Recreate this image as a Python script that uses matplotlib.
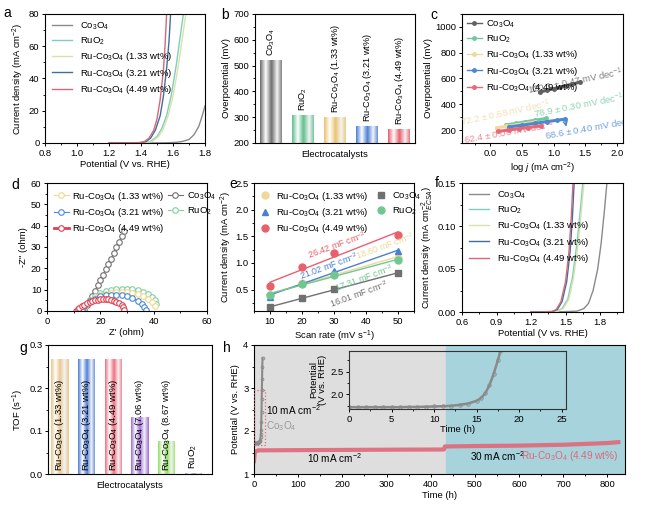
import numpy as np
import matplotlib
matplotlib.use('Agg')
import matplotlib.pyplot as plt
from matplotlib.colors import LinearSegmentedColormap
from matplotlib.patches import Rectangle
from matplotlib.ticker import AutoMinorLocator

plt.rcParams['font.family'] = ['Liberation Sans', 'DejaVu Sans']
plt.rcParams['mathtext.fontset'] = 'custom'
plt.rcParams['mathtext.rm'] = 'Liberation Sans'
plt.rcParams['mathtext.it'] = 'Liberation Sans:italic'
plt.rcParams['mathtext.bf'] = 'Liberation Sans:bold'
plt.rcParams['font.size'] = 6.8
plt.rcParams['axes.linewidth'] = 0.8

CO = 'Co$_3$O$_4$'
RUO = 'RuO$_2$'
def ru(w):
    return 'Ru-Co$_3$O$_4$ (%s wt%%)' % w

# ---- a: LSV (V vs RHE, mA cm-2)
a_names = [CO, RUO, ru('1.33'), ru('3.21'), ru('4.49')]
a_v = [[1.20, 1.40, 1.55, 1.62, 1.66, 1.70, 1.73, 1.76, 1.78, 1.80],
       [1.20, 1.42, 1.46, 1.50, 1.53, 1.56, 1.59, 1.62, 1.645, 1.665],
       [1.20, 1.43, 1.47, 1.51, 1.54, 1.57, 1.60, 1.63, 1.66, 1.68],
       [1.20, 1.39, 1.43, 1.46, 1.49, 1.52, 1.54, 1.56, 1.575, 1.585],
       [1.20, 1.38, 1.42, 1.45, 1.48, 1.50, 1.52, 1.54, 1.55, 1.56]]
a_j = [[0, 0, 0.1, 0.4, 1.0, 2.2, 5, 10, 16, 23],
       [0, 0.1, 1, 4, 9, 17, 30, 48, 66, 80],
       [0, 0.1, 1, 4, 9, 17, 29, 46, 66, 80],
       [0, 0.1, 0.8, 3, 8, 17, 29, 46, 63, 80],
       [0, 0.1, 0.8, 3, 8, 15, 27, 45, 60, 80]]
a_colors = ['#8a8a8a', '#7ccfc0', '#d9e2a8', '#3f6f9f', '#d86878']

# ---- b: overpotential
b_names = [CO, RUO, ru('1.33'), ru('3.21'), ru('4.49')]
b_eta = [522, 310, 300, 267, 253]
b_colors = ['#6e6e6e', '#5fbf8c', '#e8c472', '#4a80d8', '#e8606c']

# ---- c: Tafel
c_x = [[0.78, 0.90, 1.00, 1.10, 1.20, 1.30, 1.42],
       [0.25, 0.40, 0.55, 0.70, 0.88],
       [0.10, 0.25, 0.40, 0.55, 0.70],
       [0.30, 0.50, 0.70, 0.90, 1.05, 1.18],
       [0.12, 0.30, 0.45, 0.60, 0.80]]
c_y = [[495, 509, 521, 533, 545, 557, 572],
       [240, 252, 264, 276, 290],
       [218, 229, 240, 251, 262],
       [225, 238, 252, 266, 276, 285],
       [190, 201, 211, 220, 233]]
c_colors = ['#606060', '#70c8a0', '#f0d8a0', '#4a88d0', '#e86878']
c_slopes = ['120.1 ± 0.47', '78.9 ± 0.30', '72.2 ± 0.68', '68.6 ± 0.40', '62.4 ± 0.06']
c_label_pos = [(1.34, 575), (1.40, 388), (0.23, 335), (1.58, 212), (0.30, 180)]
c_label_rot = [11, 11, 12, 10, 10]

# ---- d: Nyquist
d_zr = [[14, 15, 16, 17, 18, 19, 20, 21, 22, 23, 24, 25, 26, 27, 28, 29],
        [14, 16, 18, 20, 22, 24, 26, 28, 30, 32, 34, 36, 38, 39.5, 40.5, 41],
        [14, 16, 18, 20, 22, 24, 26, 28, 30, 32, 34, 36, 38, 39.5, 40.5],
        [12, 13, 14, 16, 18, 20, 22, 24, 26, 28, 30, 32, 34, 35.5, 36.5, 37],
        [11, 11.5, 12, 13, 14, 15, 16, 17, 18, 19, 20, 21, 22, 23, 24, 25, 26, 27, 28, 28.5, 29]]
d_zi = [[1, 3, 5, 7, 9.5, 12, 14.5, 17, 19.5, 22, 24.5, 27, 30, 32.5, 35, 37.5],
        [2, 5, 7, 8.3, 9.2, 9.8, 10.2, 10.4, 10.4, 10.2, 9.8, 9, 7.8, 6.5, 5, 3.5],
        [2, 4.5, 6.2, 7.3, 8, 8.5, 8.8, 8.9, 8.8, 8.5, 8, 7, 5.5, 4, 2.5],
        [0, 1, 2.5, 4.5, 5.8, 6.8, 7.3, 7.6, 7.7, 7.5, 7, 6.2, 4.8, 3.5, 2, 0.5],
        [0, 0.8, 1.5, 2.3, 3, 3.7, 4.2, 4.7, 5, 5.2, 5.4, 5.5, 5.5, 5.4, 5.2, 4.9, 4.4, 3.7, 2.8, 1.8, 0.5]]
d_names = [CO, RUO, ru('1.33'), ru('3.21'), ru('4.49')]
d_colors = ['#707070', '#80d0a0', '#f0d890', '#4a88d8', '#e04050']

# ---- e: Cdl
e_rate = [10, 20, 30, 50]
e_names = [ru('1.33'), ru('3.21'), ru('4.49'), CO, RUO]
e_j = [[0.40, 0.62, 0.80, 1.10],
       [0.37, 0.63, 0.85, 1.22],
       [0.56, 0.93, 1.19, 1.53],
       [0.17, 0.34, 0.51, 0.81],
       [0.40, 0.60, 0.78, 1.05]]
e_markers = ['o', '^', 'o', 's', 'o']
e_colors = ['#f0d898', '#4a80d0', '#e8606c', '#707070', '#70c890']
e_cdl = ['18.60', '21.02', '26.42', '16.01', '17.31']
e_label_pos = [(46, 1.31), (28.4, 0.94), (30.8, 1.34), (37.7, 0.42), (39.3, 0.72)]

# ---- f: ECSA-normalised LSV
f_v = [[1.40, 1.60, 1.66, 1.70, 1.74, 1.78, 1.81, 1.84, 1.86],
       [1.20, 1.42, 1.47, 1.52, 1.56, 1.60, 1.63, 1.65],
       [1.20, 1.43, 1.48, 1.53, 1.57, 1.61, 1.64, 1.66],
       [1.20, 1.39, 1.43, 1.47, 1.51, 1.54, 1.56, 1.575],
       [1.20, 1.38, 1.42, 1.46, 1.50, 1.53, 1.55, 1.565]]
f_j = [[0, 0.001, 0.004, 0.010, 0.025, 0.050, 0.080, 0.120, 0.150],
       [0, 0.0005, 0.004, 0.015, 0.040, 0.080, 0.120, 0.150],
       [0, 0.0005, 0.004, 0.015, 0.040, 0.080, 0.120, 0.150],
       [0, 0.0005, 0.003, 0.012, 0.035, 0.070, 0.110, 0.150],
       [0, 0.0005, 0.003, 0.012, 0.035, 0.070, 0.110, 0.150]]

# ---- g: TOF
g_names = [ru('1.33'), ru('3.21'), ru('4.49'), ru('7.06'), ru('8.67'), RUO]
g_tof = [0.267, 0.268, 0.268, 0.132, 0.076, 0.003]
g_colors = ['#e8c890', '#5080d8', '#f07080', '#a070d8', '#90e060', '#90a8a0']

# ---- h: stability
h_co_t = [0, 1, 2, 3, 4, 5, 6, 7, 8, 9, 10, 11, 12, 13, 14, 15, 15.5, 16, 16.5, 17, 17.5, 17.8, 18.3, 18.8, 19.3]
h_co_v = [1.72, 1.72, 1.72, 1.72, 1.72, 1.72, 1.72, 1.725, 1.725, 1.73, 1.735, 1.74, 1.75, 1.77, 1.80,
          1.86, 1.92, 2.02, 2.2, 2.45, 2.75, 2.95, 3.2, 3.5, 3.7]
h_ru_t = [0, 2, 10, 100, 200, 300, 430, 432, 500, 600, 700, 800, 825]
h_ru_v = [1.3, 1.52, 1.55, 1.555, 1.56, 1.565, 1.57, 1.64, 1.65, 1.66, 1.68, 1.72, 1.74]
h_switch = 435
inset_window = (0, 25.5, 1.68, 2.95)


def style(ax, minor_x=True, minor_y=True):
    ax.tick_params(direction='out', length=2.5, width=0.7, labelsize=6.8, pad=1.5)
    ax.tick_params(which='minor', direction='out', length=1.5, width=0.6)
    if minor_x:
        ax.xaxis.set_minor_locator(AutoMinorLocator(2))
    if minor_y:
        ax.yaxis.set_minor_locator(AutoMinorLocator(2))


def shade_bars(ax, bars, colors):
    lim = ax.get_ylim()
    for b, c in zip(bars, colors):
        cm = LinearSegmentedColormap.from_list('g', [c, '#ffffff', c, '#f4f4f4', c])
        x0 = b.get_x()
        im = ax.imshow(np.linspace(0, 1, 64)[None, :], cmap=cm, aspect='auto',
                       extent=(x0, x0 + b.get_width(), lim[0], b.get_y() + b.get_height()),
                       zorder=2)
        im.set_clip_path(b.get_path(), b.get_transform())


fig = plt.figure(figsize=(6.48, 5.07), dpi=100)

def axes_px(l, t, r, b):
    W, H = 648, 507
    return fig.add_axes([l / W, 1 - b / H, (r - l) / W, (b - t) / H])

# a
ax = axes_px(45, 14, 205, 143)
for v, j, n, c in zip(a_v, a_j, a_names, a_colors):
    ax.plot(v, j, color=c, lw=1.0, label=n)
ax.set_xlim(0.8, 1.8)
ax.set_ylim(0, 80)
ax.set_xlabel('Potential (V vs. RHE)', labelpad=2)
ax.set_ylabel('Current density (mA cm$^{-2}$)', labelpad=2)
ax.legend(loc='upper left', frameon=False, fontsize=6.8, handlelength=2.2,
          labelspacing=0.35, borderaxespad=0.3)
style(ax)

# b
ax = axes_px(255, 14, 415, 143)
ax.set_xlim(0.5, 5.5)
ax.set_ylim(200, 700)
pos = np.arange(1, len(b_eta) + 1)
bars = ax.bar(pos, b_eta, width=0.7, color='none', edgecolor='none')
shade_bars(ax, bars, b_colors)
for p, e, n in zip(pos, b_eta, b_names):
    ax.text(p, e + 15, n, rotation=90, ha='center', va='bottom', fontsize=6.6)
ax.set_xlim(0.5, 5.5)
ax.set_ylim(200, 700)
ax.set_xticks([])
ax.set_xlabel('Electrocatalysts', labelpad=5)
ax.set_ylabel('Overpotential (mV)', labelpad=2)
style(ax, minor_x=False)

# c
ax = axes_px(462, 14, 623, 143)
for x, y, n, c in zip(c_x, c_y, a_names, c_colors):
    ax.plot(x, y, color=c, lw=2.2, marker='o', ms=2.5, label=n)
for s, p, r, c in zip(c_slopes, c_label_pos, c_label_rot, c_colors):
    ax.text(p[0], p[1], s + ' mV dec$^{-1}$', color=c, rotation=r, ha='center',
            va='center', fontsize=6.8, alpha=0.8, clip_on=True)
ax.annotate('', xy=(c_x[3][-1] + 0.03, 205), xytext=(c_x[3][-1], c_y[3][-1] - 8),
            arrowprops=dict(arrowstyle='->', color='#4a88d0', lw=1.0))
ax.set_xlim(-0.45, 2.1)
ax.set_ylim(100, 1100)
ax.set_xticks([0.0, 0.5, 1.0, 1.5, 2.0])
ax.set_yticks([200, 400, 600, 800, 1000])
ax.set_xlabel('log $j$ (mA cm$^{-2}$)', labelpad=2)
ax.set_ylabel('Overpotential (mV)', labelpad=2)
leg = ax.legend(loc='upper left', frameon=False, fontsize=6.8, handlelength=1.6,
                labelspacing=0.35, borderaxespad=0.1, handletextpad=0.4)
for h in leg.get_lines():
    h.set_linewidth(1.0)
style(ax)

# d
ax = axes_px(47, 183, 207, 311)
handles = {}
for zr, zi, n, c in zip(d_zr, d_zi, d_names, d_colors):
    lw = 2.0 if n == ru('4.49') else 0.8
    h, = ax.plot(zr, zi, color=c, lw=lw, marker='o', ms=4, mfc='white', mew=0.8, label=n)
    handles[n] = h
order = [ru('1.33'), ru('3.21'), ru('4.49'), CO, RUO]
ax.legend([handles[k] for k in order], order, ncol=2, loc='upper left', frameon=False,
          fontsize=6.8, handlelength=1.6, columnspacing=0.3, labelspacing=0.35,
          borderaxespad=0.3, handletextpad=0.4)
ax.set_xlim(0, 60)
ax.set_ylim(0, 60)
ax.set_xlabel("Z' (ohm)", labelpad=2)
ax.set_ylabel("-Z'' (ohm)", labelpad=2)
style(ax)

# e
ax = axes_px(254, 183, 414, 311)
for j, n, m, c, cdl, p in zip(e_j, e_names, e_markers, e_colors, e_cdl, e_label_pos):
    k, b0 = np.polyfit(e_rate, j, 1)
    xs = np.array([e_rate[0], e_rate[-1]])
    ax.plot(xs, k * xs + b0, color=c, lw=1.0)
    ax.plot(e_rate, j, ls='none', marker=m, ms=5, color=c, label=n)
    ax.text(p[0], p[1], cdl + ' mF cm$^{-2}$', color=c, rotation=20, ha='center',
            va='center', fontsize=6.5, clip_on=True)
ax.set_xlim(5, 55)
ax.set_ylim(0.1, 2.5)
ax.set_xticks([10, 20, 30, 40, 50])
ax.set_yticks([0.5, 1.0, 1.5, 2.0, 2.5])
ax.set_xlabel('Scan rate (mV s$^{-1}$)', labelpad=2)
ax.set_ylabel('Current density (mA cm$^{-2}$)', labelpad=1)
ax.legend(ncol=2, loc='upper left', frameon=False, fontsize=6.8, handlelength=1.0,
          columnspacing=0.9, labelspacing=0.35, borderaxespad=0.3, handletextpad=0.6)
style(ax)

# f
ax = axes_px(462, 183, 623, 312)
for v, j, n, c in zip(f_v, f_j, a_names, a_colors):
    ax.plot(v, j, color=c, lw=1.0, label=n)
ax.set_xlim(0.6, 2.0)
ax.set_ylim(0, 0.15)
ax.set_xticks([0.6, 0.9, 1.2, 1.5, 1.8])
ax.set_yticks([0.0, 0.05, 0.10, 0.15])
ax.set_xlabel('Potential (V vs. RHE)', labelpad=2)
ax.set_ylabel('Current density (mA cm$^{-2}_{ECSA}$)', labelpad=2)
ax.legend(loc='upper left', frameon=False, fontsize=6.8, handlelength=2.2,
          labelspacing=0.35, borderaxespad=0.3)
style(ax)

# g
ax = axes_px(48, 345, 212, 474)
ax.set_xlim(0.55, 6.7)
ax.set_ylim(0, 0.3)
pos = np.arange(1, len(g_tof) + 1)
bars = ax.bar(pos, g_tof, width=0.66, color='none', edgecolor='none')
shade_bars(ax, bars, g_colors)
for p, t, n in zip(pos, g_tof, g_names):
    ax.text(p, t + 0.008 if n == RUO else 0.008, n, rotation=90,
            ha='center', va='bottom', fontsize=6.8, zorder=3)
ax.set_xlim(0.55, 6.7)
ax.set_ylim(0, 0.3)
ax.set_xticks([])
ax.set_yticks([0.0, 0.1, 0.2, 0.3])
ax.set_xlabel('Electrocatalysts', labelpad=5)
ax.set_ylabel('TOF (s$^{-1}$)', labelpad=2)
style(ax, minor_x=False)

# h
ax = axes_px(254, 345, 625, 474)
ax.axvspan(0, h_switch, color='#dedede', zorder=0)
ax.axvspan(h_switch, 840, color='#a6d3dc', zorder=0)
ax.plot(h_ru_t, h_ru_v, color='#e06878', lw=3, alpha=0.9)
ax.plot(h_co_t, h_co_v, color='#8a8a8a', lw=1.5, marker='o', ms=2, mfc='none', mew=0.6)
x0, x1, y0, y1 = inset_window
ax.add_patch(Rectangle((x0, y0), x1 - x0, y1 - y0, fill=False, ls=':', lw=0.9,
                       ec='#e06878', zorder=3))
ax.text(27, 2.48, '10 mA cm$^{-2}$', fontsize=7.2, va='center')
ax.text(27, 2.12, CO, fontsize=7.2, va='center', color='#9a9a9a')
ax.text(181, 1.37, '10 mA cm$^{-2}$', fontsize=7.2, ha='center', va='center')
ax.text(551, 1.42, '30 mA cm$^{-2}$', fontsize=7.2, ha='center', va='center')
ax.text(714, 1.42, ru('4.49'), fontsize=7.2, ha='center', va='center', color='#e06878')
ax.set_xlim(0, 840)
ax.set_ylim(1, 4)
ax.set_yticks([1, 2, 3, 4])
ax.set_xticks(range(0, 801, 100))
ax.set_xlabel('Time (h)', labelpad=2)
ax.set_ylabel('Potential (V vs. RHE)', labelpad=2)
style(ax)

axi = axes_px(349, 351, 566, 409)
axi.patch.set_alpha(0)
axi.plot(h_co_t, h_co_v, color='#8a8a8a', lw=1.8, marker='o', ms=2.5, mfc='none', mew=0.6)
axi.set_xlim(x0, x1)
axi.set_ylim(y0, y1)
axi.set_xticks([0, 5, 10, 15, 20, 25])
axi.set_yticks([2.0, 2.5])
axi.set_xlabel('Time (h)', labelpad=1)
axi.set_ylabel('Potential\n(V vs. RHE)', labelpad=2, linespacing=1.0)
for s in axi.spines.values():
    s.set_color('#333333')
style(axi)

# panel letters
for ch, x, y in [('a', 7, 13), ('b', 225, 15), ('c', 434, 15), ('d', 15, 185),
                 ('e', 233, 184), ('f', 437, 183), ('g', 23, 348), ('h', 227, 348)]:
    fig.text(x / 648, 1 - y / 507, ch, fontsize=10, ha='center', va='center')

fig.savefig('out.png', dpi=100)
